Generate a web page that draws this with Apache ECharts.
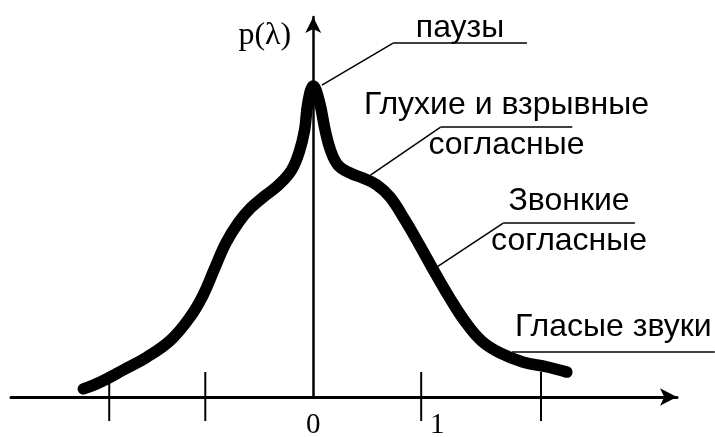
<!DOCTYPE html>
<html>
<head>
<meta charset="utf-8">
<script src="https://cdn.jsdelivr.net/npm/echarts@6/dist/echarts.min.js"></script>
<style>
html, body { margin: 0; padding: 0; background: #fff; }
#main { width: 715px; height: 437px; }
</style>
</head>
<body>
<div id="main"></div>
<script>
// кривая плотности p(λ)
var lambdaValues = [-2.13, -1.97, -1.76, -1.54, -1.32, -1.14, -1.02, -0.92, -0.81, -0.69, -0.58, -0.45, -0.32, -0.20, -0.13, -0.08, -0.05, 0,
    0.06, 0.11, 0.16, 0.23, 0.34, 0.46, 0.59, 0.71, 0.85, 0.99, 1.13, 1.27, 1.41, 1.56, 1.73, 1.94, 2.17, 2.35];
var pValues = [0.027, 0.05, 0.09, 0.133, 0.19, 0.267, 0.34, 0.423, 0.513, 0.583, 0.63, 0.67, 0.707, 0.757, 0.817, 0.89, 0.98, 1.037,
    0.98, 0.89, 0.823, 0.773, 0.747, 0.73, 0.707, 0.667, 0.59, 0.503, 0.413, 0.327, 0.25, 0.187, 0.147, 0.117, 0.10, 0.083];

// штрихи на оси λ и подписи
var tickValues = [-1.89, -1, 1, 2.11];
var tickLabels = ['0', '1'];
var tickLabelAt = [0, 1.15];

// выноски: точка на кривой, излом, конец полки
var noteText = [['паузы'], ['Глухие и взрывные', 'согласные'], ['Звонкие', 'согласные'], ['Гласые звуки']];
var noteFrom = [[0.08, 1.04], [0.53, 0.74], [1.13, 0.43], null];
var noteElbow = [[0.74, 1.18], [1.18, 0.9], [1.76, 0.58], [1.84, 0.15]];
var noteEnd = [1.98, 2.4, 2.98, 3.72];
var noteGap = [-15, -22, -22, -25];

window.onload = () => {
    var chartDom = document.getElementById('main');
    var myChart = echarts.init(chartDom);
    var option;

    var curve = lambdaValues.map(function (v, i) { return [v, pValues[i]]; });

    option = {
        backgroundColor: '#fff',
        animation: false,
        grid: {
            left: 11,
            right: 38,
            top: 17,
            bottom: 40
        },
        xAxis: {
            type: 'value',
            min: -2.8,
            max: 3.37,
            axisLine: {
                onZero: true,
                symbol: ['none', 'arrow'],
                symbolSize: [13, 17],
                lineStyle: { color: '#000', width: 3 }
            },
            axisTick: { show: false },
            axisLabel: { show: false },
            splitLine: { show: false }
        },
        yAxis: {
            type: 'value',
            min: 0,
            max: 1.267,
            name: 'p(λ)',
            nameLocation: 'end',
            nameGap: -19,
            nameTextStyle: {
                fontFamily: 'Liberation Serif',
                fontSize: 32,
                color: '#000',
                align: 'right',
                verticalAlign: 'middle',
                padding: [0, 22, 0, 0]
            },
            axisLine: {
                onZero: true,
                symbol: ['none', 'arrow'],
                symbolSize: [12, 16],
                lineStyle: { color: '#000', width: 2.5 }
            },
            axisTick: { show: false },
            axisLabel: { show: false },
            splitLine: { show: false }
        },
        series: [
            {
                name: 'p',
                type: 'line',
                data: curve,
                smooth: 0.4,
                symbol: 'none',
                lineStyle: { color: '#000', width: 11.5, cap: 'round', join: 'round' },
                z: 5
            },
            {
                name: 'ticks',
                type: 'custom',
                data: tickValues.map(function (v) { return [v]; }),
                clip: false,
                silent: true,
                renderItem: function (params, api) {
                    var p = api.coord([api.value(0), 0]);
                    return {
                        type: 'line',
                        shape: { x1: p[0], y1: p[1] - 25, x2: p[0], y2: p[1] + 24 },
                        style: { stroke: '#000', lineWidth: 2 }
                    };
                }
            },
            {
                name: 'tickLabels',
                type: 'custom',
                data: tickLabelAt.map(function (v) { return [v]; }),
                clip: false,
                silent: true,
                renderItem: function (params, api) {
                    var p = api.coord([api.value(0), 0]);
                    return {
                        type: 'text',
                        x: p[0],
                        y: p[1] + 28,
                        style: {
                            text: tickLabels[params.dataIndex],
                            fontFamily: 'Liberation Serif',
                            fontSize: 29,
                            fill: '#000',
                            align: 'center',
                            verticalAlign: 'middle'
                        }
                    };
                }
            },
            {
                name: 'notes',
                type: 'custom',
                data: noteElbow,
                clip: false,
                silent: true,
                renderItem: function (params, api) {
                    var i = params.dataIndex;
                    var elbow = api.coord(noteElbow[i]);
                    var end = api.coord([noteEnd[i], noteElbow[i][1]]);
                    var children = [];
                    if (noteFrom[i]) {
                        var from = api.coord(noteFrom[i]);
                        children.push({
                            type: 'line',
                            shape: { x1: from[0], y1: from[1], x2: elbow[0], y2: elbow[1] },
                            style: { stroke: '#000', lineWidth: 1.5 }
                        });
                    }
                    children.push({
                        type: 'line',
                        shape: { x1: elbow[0], y1: elbow[1], x2: end[0], y2: end[1] },
                        style: { stroke: '#000', lineWidth: 1.5 }
                    });
                    var cx = (elbow[0] + end[0]) / 2;
                    noteText[i].forEach(function (t, k) {
                        children.push({
                            type: 'text',
                            x: cx,
                            y: elbow[1] + (k === 0 ? noteGap[i] : 18),
                            style: {
                                text: t,
                                fontFamily: 'Liberation Sans',
                                fontSize: 32,
                                fill: '#000',
                                align: 'center',
                                verticalAlign: 'middle'
                            }
                        });
                    });
                    return { type: 'group', children: children };
                }
            }
        ]
    };
    option && myChart.setOption(option);
};
</script>
</body>
</html>
